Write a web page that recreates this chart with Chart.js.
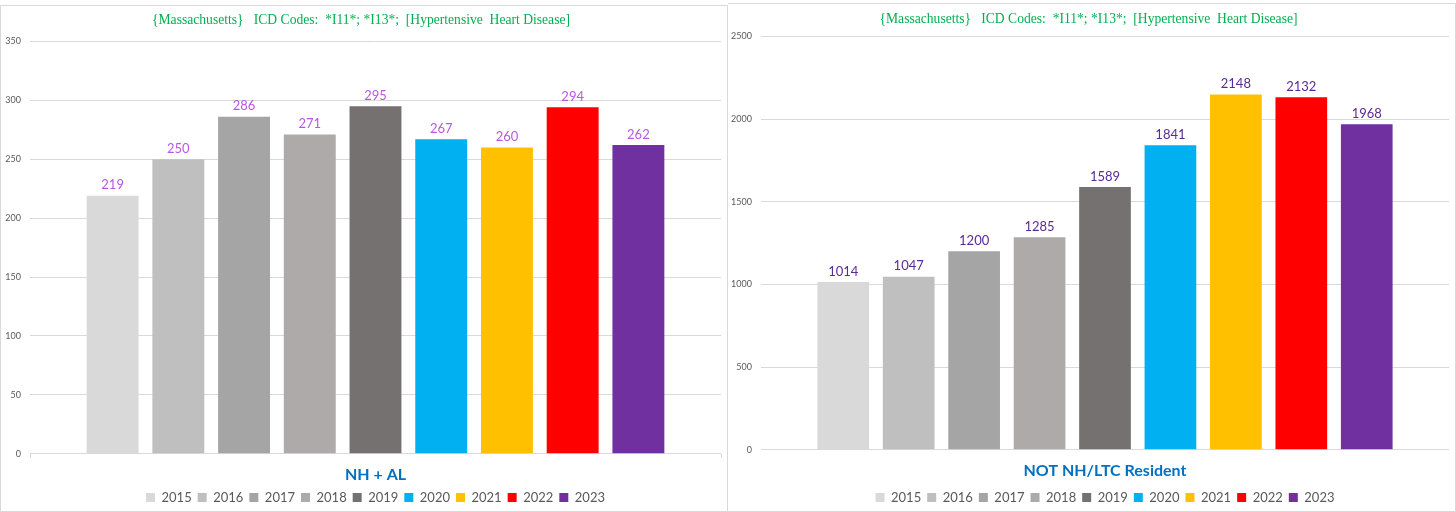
<!DOCTYPE html>
<html>
<head>
<meta charset="utf-8">
<script src="https://cdn.jsdelivr.net/npm/chart.js@4.4.1/dist/chart.umd.min.js"></script>
<style>
    body { margin: 0; background: #fff; }
    .panel { position: absolute; border: 1px solid #d9d9d9; box-sizing: border-box; background: #fff; }
    #leftPanel { left: 0; top: 5px; width: 728px; height: 507px; }
    #rightPanel { left: 728px; top: 3px; width: 728px; height: 509px; border-left: none; }
</style>
</head>
<body>
<div class="panel" id="leftPanel"><canvas id="leftChart"></canvas></div>
<div class="panel" id="rightPanel"><canvas id="rightChart"></canvas></div>
<script>
// ============================================================================
// データ
// ============================================================================
const years = ["2015", "2016", "2017", "2018", "2019", "2020", "2021", "2022", "2023"];
const nhAlDeaths = [219, 250, 286, 271, 295, 267, 260, 294, 262];
const notNhDeaths = [1014, 1047, 1200, 1285, 1589, 1841, 2148, 2132, 1968];
const yearColors = ["#d9d9d9", "#bfbfbf", "#a5a5a5", "#aeaaaa", "#767171", "#00b0f0", "#ffc000", "#ff0000", "#7030a0"];
const leftTicks = { max: 350, step: 50 };
const rightTicks = { max: 2500, step: 500 };
const chartTitle = "{Massachusetts}   ICD Codes:  *I11*; *I13*;  [Hypertensive  Heart Disease]";

Chart.defaults.font.family = "Lato";
Chart.defaults.animation = false;

// 棒の上に値を書くプラグイン
const valueLabels = {
    id: "valueLabels",
    afterDatasetsDraw(chart, args, opts) {
        const c = chart.ctx;
        chart.data.datasets.forEach((ds, i) => {
            chart.getDatasetMeta(i).data.forEach((bar, j) => {
                c.save();
                c.fillStyle = opts.color;
                c.font = "13px Lato";
                c.textAlign = "center";
                c.textBaseline = "bottom";
                c.fillText(ds.data[j], bar.x, bar.y - 4);
                c.restore();
            });
        });
    },
};

// p: 余白などの見た目の設定
const makeChart = (id, values, ticks, axisTitle, labelColor, p) => {
    new Chart(document.getElementById(id), {
        type: "bar",
        data: {
            labels: [""],
            datasets: years.map((y, i) => ({
                label: y,
                data: [values[i]],
                backgroundColor: yearColors[i],
                categoryPercentage: 0.856,
                barPercentage: 0.79,
            })),
        },
        plugins: [valueLabels],
        options: {
            responsive: true,
            maintainAspectRatio: false,
            layout: { padding: { left: 0, right: 6, top: 0, bottom: -3 } },
            plugins: {
                valueLabels: { color: labelColor },
                tooltip: { enabled: false },
                title: {
                    display: true,
                    text: chartTitle,
                    color: "#00b050",
                    font: { family: "Liberation Serif", size: 13.6, weight: "normal" },
                    padding: p.titlePad,
                },
                legend: {
                    position: "bottom",
                    fullSize: false,
                    labels: {
                        color: "#595959",
                        font: { size: 13 },
                        boxWidth: 9,
                        boxHeight: 9,
                        padding: 6,
                    },
                },
            },
            scales: {
                x: {
                    grid: { display: p.edgeTicks, drawOnChartArea: false, tickLength: 4, color: "#d9d9d9" },
                    border: { display: false },
                    ticks: { display: false },
                    title: {
                        display: true,
                        text: axisTitle,
                        color: "#0070c0",
                        font: { size: 16, weight: "bold" },
                        padding: p.axisPad,
                    },
                },
                y: {
                    min: 0,
                    max: ticks.max,
                    afterFit: (scale) => { scale.width = p.yWidth; },
                    grid: { color: "#d9d9d9", drawTicks: false },
                    border: { display: false },
                    ticks: {
                        stepSize: ticks.step,
                        color: "#595959",
                        font: { size: 9 },
                        padding: 9,
                        callback: (v) => String(v),
                    },
                },
            },
        },
    });
};

makeChart("leftChart", nhAlDeaths, leftTicks, "NH + AL", "#b757e3", {
    yWidth: 29, edgeTicks: true,
    titlePad: { top: 6, bottom: 13 },
    axisPad: { top: 7, bottom: 1 },
});
makeChart("rightChart", notNhDeaths, rightTicks, "NOT NH/LTC Resident", "#5a2a96", {
    yWidth: 33, edgeTicks: false,
    titlePad: { top: 7, bottom: 9 },
    axisPad: { top: 7, bottom: 5 },
});
</script>
</body>
</html>
